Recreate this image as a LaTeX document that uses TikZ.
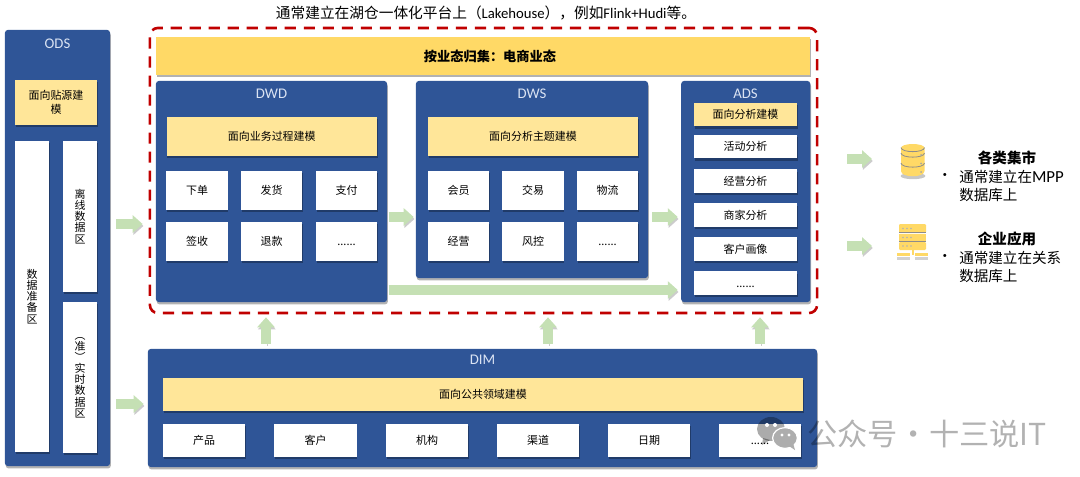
\documentclass[tikz,border=0pt]{standalone}
\usepackage{fontspec}
\setmainfont{Noto Sans CJK SC}
\newfontfamily\latinfont{Carlito}
\usetikzlibrary{arrows.meta,shadows}
\definecolor{layerblue}{HTML}{2F5597}
\definecolor{labelblue}{HTML}{DAE3F3}
\definecolor{bandgold}{HTML}{FFD966}
\definecolor{modelgold}{HTML}{FFE699}
\definecolor{flowgreen}{HTML}{C5E0B4}
\definecolor{framered}{HTML}{C00000}
\newcommand{\smallcn}{\fontsize{7.8}{10}\selectfont}
\newcommand{\stackcn}{\fontsize{7.8}{7.9}\selectfont\lineskiplimit=-20pt\lineskip=0pt}
\newcommand{\bigcn}{\fontsize{10.35}{12.8}\selectfont}
\newcommand{\moredots}{\vphantom{单}......}
\begin{document}
\begin{tikzpicture}[
    x=0.025cm, y=-0.025cm,
    softshadow/.style={drop shadow={shadow xshift=0.02cm, shadow yshift=-0.06cm, opacity=0.3, fill=black}},
    layer/.style={rectangle, fill=layerblue, rounded corners=0.07cm, softshadow, inner sep=0},
    layername/.style={text=labelblue, font=\latinfont\fontsize{10.5}{12}\selectfont},
    model/.style={rectangle, fill=modelgold, softshadow, inner sep=0, font=\smallcn, align=center},
    cell/.style={rectangle, fill=white, softshadow, inner sep=0, font=\smallcn, align=center},
    tallcell/.style={cell, minimum width=0.85cm, font=\stackcn},
    dwcell/.style={cell, minimum width=1.525cm, minimum height=0.975cm},
    adscell/.style={cell, minimum width=2.575cm, minimum height=0.59cm},
    dimcell/.style={cell, minimum width=2.05cm, minimum height=0.825cm},
    flow/.style={-{Triangle[length=0.25cm, width=0.43cm]}, line width=0.25cm, draw=flowgreen,
        preaction={draw=black!20, transform canvas={xshift=0.02cm, yshift=-0.05cm}}},
    icon/.style={fill=bandgold},
    iconline/.style={draw=black!45, line width=0.02cm},
    bigtext/.style={font=\bigcn, align=left, inner sep=0},
]
\useasboundingbox (0,0) rectangle (1080,476);

% Title
\node[font=\fontsize{10.45}{12.8}\selectfont, inner sep=0] (title) at (486,13) {通常建立在湖仓一体化平台上（\latinfont Lakehouse\rmfamily），例如\latinfont Flink+Hudi\rmfamily 等。};

% ODS
\node[layer, minimum width=2.625cm, minimum height=10.9cm] (ods) at (57.5,248) {};
\node[layername] (odsname) at (57.5,44) {ODS};
\node[model, minimum width=2.05cm, minimum height=1.125cm] (odsmodel) at (56,102.5) {面向贴源建\\模};
\node[tallcell, minimum height=7.775cm] (prep) at (32,296.5) {数\\据\\准\\备\\区};
\node[tallcell, minimum height=3.775cm] (offline) at (80,216.5) {离\\线\\数\\据\\区};
\node[tallcell, minimum height=3.775cm] (realtime) at (80,377.5) {︵\\准\\︶\\实\\时\\数\\据\\区};

% Lakehouse frame
\node[rectangle, draw=framered, line width=0.065cm, dash pattern=on 0.28cm off 0.195cm, rounded corners=0.2cm, minimum width=16.675cm, minimum height=7.125cm, inner sep=0] (frame) at (483.5,170.5) {};
\node[rectangle, fill=bandgold, softshadow, minimum width=16.35cm, minimum height=0.95cm, inner sep=0, font=\fontsize{9.4}{11}\selectfont\bfseries] (band) at (483,56) {\hspace{0.35cm}按业态归集：电商业态};

% DWD
\node[layer, minimum width=5.775cm, minimum height=5.525cm] (dwd) at (271.5,191.5) {};
\node[layername] (dwdname) at (271.5,94) {DWD};
\node[model, minimum width=5.26cm, minimum height=0.975cm] (dwdmodel) at (271.75,136.5) {面向业务过程建模};
\node[dwcell] (order) at (197,190.5) {下单};
\node[dwcell] (ship) at (271.5,190.5) {发货};
\node[dwcell] (pay) at (346.5,190.5) {支付};
\node[dwcell] (sign) at (197,241.5) {签收};
\node[dwcell] (refund) at (271.5,241.5) {退款};
\node[dwcell] (dwdmore) at (346.5,241.5) {\moredots};

% DWS
\node[layer, minimum width=5.8cm, minimum height=4.925cm] (dws) at (532,179.5) {};
\node[layername] (dwsname) at (532,94) {DWS};
\node[model, minimum width=5.25cm, minimum height=0.975cm] (dwsmodel) at (533,136.5) {面向分析主题建模};
\node[dwcell] (member) at (458.5,190.5) {会员};
\node[dwcell] (trade) at (533,190.5) {交易};
\node[dwcell] (logistics) at (607.5,190.5) {物流};
\node[dwcell] (operate) at (458.5,241.5) {经营};
\node[dwcell] (risk) at (533,241.5) {风控};
\node[dwcell] (dwsmore) at (607.5,241.5) {\moredots};

% ADS
\node[layer, minimum width=3.225cm, minimum height=5.525cm] (ads) at (745.75,191.5) {};
\node[layername] (adsname) at (745.5,94) {ADS};
\node[model, minimum width=2.575cm, minimum height=0.59cm] (adsmodel) at (745.5,114.5) {面向分析建模};
\node[adscell] (activity) at (745.5,146.5) {活动分析};
\node[adscell] (business) at (745.5,181) {经营分析};
\node[adscell] (merchant) at (745.5,215) {商家分析};
\node[adscell] (portrait) at (745.5,249) {客户画像};
\node[adscell] (adsmore) at (745.5,283) {\moredots};

% DIM
\node[layer, minimum width=16.725cm, minimum height=2.95cm] (dim) at (482.5,408) {};
\node[layername] (dimname) at (482.5,360) {DIM};
\node[model, minimum width=16cm, minimum height=0.825cm] (dimmodel) at (483,394.5) {面向公共领域建模};
\node[dimcell] (product) at (204,440.5) {产品};
\node[dimcell] (customer) at (315.5,440.5) {客户};
\node[dimcell] (org) at (427,440.5) {机构};
\node[dimcell] (channel) at (538,440.5) {渠道};
\node[dimcell] (date) at (649,440.5) {日期};
\node[dimcell] (dimmore) at (760,440.5) {\moredots};

% Icon anchors
\coordinate (dbin) at (872,159);
\coordinate (appin) at (872,246);

% Flows
\draw[flow, shorten <=0.15cm, shorten >=0.15cm] (ods.east |- 0,224) -- (frame.west |- 0,224);
\draw[flow, shorten <=0.15cm, shorten >=0.1cm] (ods.east |- 0,404) -- (dim.west |- 0,404);
\draw[flow, shorten <=0.03cm, shorten >=0.05cm] (dwd.east |- 0,217) -- (dws.west |- 0,217);
\draw[flow, shorten <=0.1cm, shorten >=0.08cm] (dws.east |- 0,217) -- (ads.west |- 0,217);
\draw[flow, shorten <=0.03cm, shorten >=0.08cm] (dwd.east |- 0,290) -- (ads.west |- 0,290);
\draw[flow, shorten <=0.125cm, shorten >=0.075cm] (dim.north -| 266,0) -- (frame.south -| 266,0);
\draw[flow, shorten <=0.125cm, shorten >=0.075cm] (dim.north -| 548,0) -- (frame.south -| 548,0);
\draw[flow, shorten <=0.125cm, shorten >=0.075cm] (dim.north -| 760,0) -- (frame.south -| 760,0);
\draw[flow, shorten <=0.725cm] (frame.east |- dbin) -- (dbin);
\draw[flow, shorten <=0.725cm] (frame.east |- appin) -- (appin);

% Database icon
\fill[black!22] (913,176) ellipse [x radius=0.31cm, y radius=0.08cm];
\fill[icon] (901,148) .. controls (901,142.7) and (924.5,142.7) .. (924.5,148) -- (924.5,171) .. controls (924.5,178) and (901,178) .. (901,171) -- cycle;
\draw[iconline] (901,147.5) .. controls (901,153) and (924.5,153) .. (924.5,147.5);
\draw[iconline] (901,153) .. controls (901,158.5) and (924.5,158.5) .. (924.5,153);
\draw[iconline] (901,163) .. controls (901,168.5) and (924.5,168.5) .. (924.5,163);
\fill[black!35] (921,155) circle [radius=0.025cm];
\fill[black!35] (921,163.5) circle [radius=0.025cm];
\fill[black!35] (921,172) circle [radius=0.025cm];

% Server icon
\fill[icon, rounded corners=0.03cm] (899,224) rectangle (926,233);
\fill[icon] (899,233.5) rectangle (926,241.5);
\fill[icon, rounded corners=0.03cm] (899,242) rectangle (926,250);
\draw[iconline] (899,232.8) -- (926,232.8);
\draw[iconline] (899,241.6) -- (926,241.6);
\fill[black!30] (903,228.5) circle [radius=0.02cm];
\fill[black!30] (907,228.5) circle [radius=0.02cm];
\fill[black!30] (911,228.5) circle [radius=0.02cm];
\fill[black!30] (903,237.5) circle [radius=0.02cm];
\fill[black!30] (907,237.5) circle [radius=0.02cm];
\fill[black!30] (911,237.5) circle [radius=0.02cm];
\fill[black!30] (903,246) circle [radius=0.02cm];
\fill[black!30] (907,246) circle [radius=0.02cm];
\fill[black!30] (911,246) circle [radius=0.02cm];
\fill[icon] (911.5,250) rectangle (914,255);
\fill[icon] (897,253) rectangle (910,256);
\fill[icon] (915,253) rectangle (928,256);
\fill[black!18] (897,257) rectangle (910,260);
\fill[black!18] (915,257) rectangle (928,260);

% Right side texts
\node[font=\bigcn\bfseries, inner sep=0] (marts) at (1007,158) {各类集市};
\node[font=\bigcn, inner sep=0] (martsdot) at (945,177) {•};
\node[bigtext, anchor=west] (martstext) at (959,186) {通常建立在\latinfont\fontsize{12}{12.8}\selectfont MPP\\\rmfamily\bigcn 数据库上};
\node[font=\bigcn\bfseries, inner sep=0] (apps) at (1007,239) {企业应用};
\node[font=\bigcn, inner sep=0] (appsdot) at (945,258) {•};
\node[bigtext, anchor=west] (appstext) at (959,267) {通常建立在关系\\数据库上};

% Watermark
\fill[black, opacity=0.33] (771,429) ellipse [x radius=0.35cm, y radius=0.3cm];
\fill[black, opacity=0.33] (763,438) -- (762,445) -- (770,440) -- cycle;
\filldraw[fill=black!32, draw=white, line width=0.03cm] (785,438) ellipse [x radius=0.31cm, y radius=0.26cm];
\fill[black!32] (789,446) -- (795,450) -- (793,443) -- cycle;
\fill[white] (767,425) circle [radius=0.05cm];
\fill[white] (775,425) circle [radius=0.05cm];
\fill[white] (782,435) circle [radius=0.04cm];
\fill[white] (789,435) circle [radius=0.04cm];
\node[text=black, text opacity=0.3, font=\fontsize{21.5}{24}\selectfont, inner sep=0, anchor=west] (mark) at (807,434) {公众号\hspace{-4.5pt} · \hspace{-4.5pt}十三说IT};
\end{tikzpicture}
\end{document}
